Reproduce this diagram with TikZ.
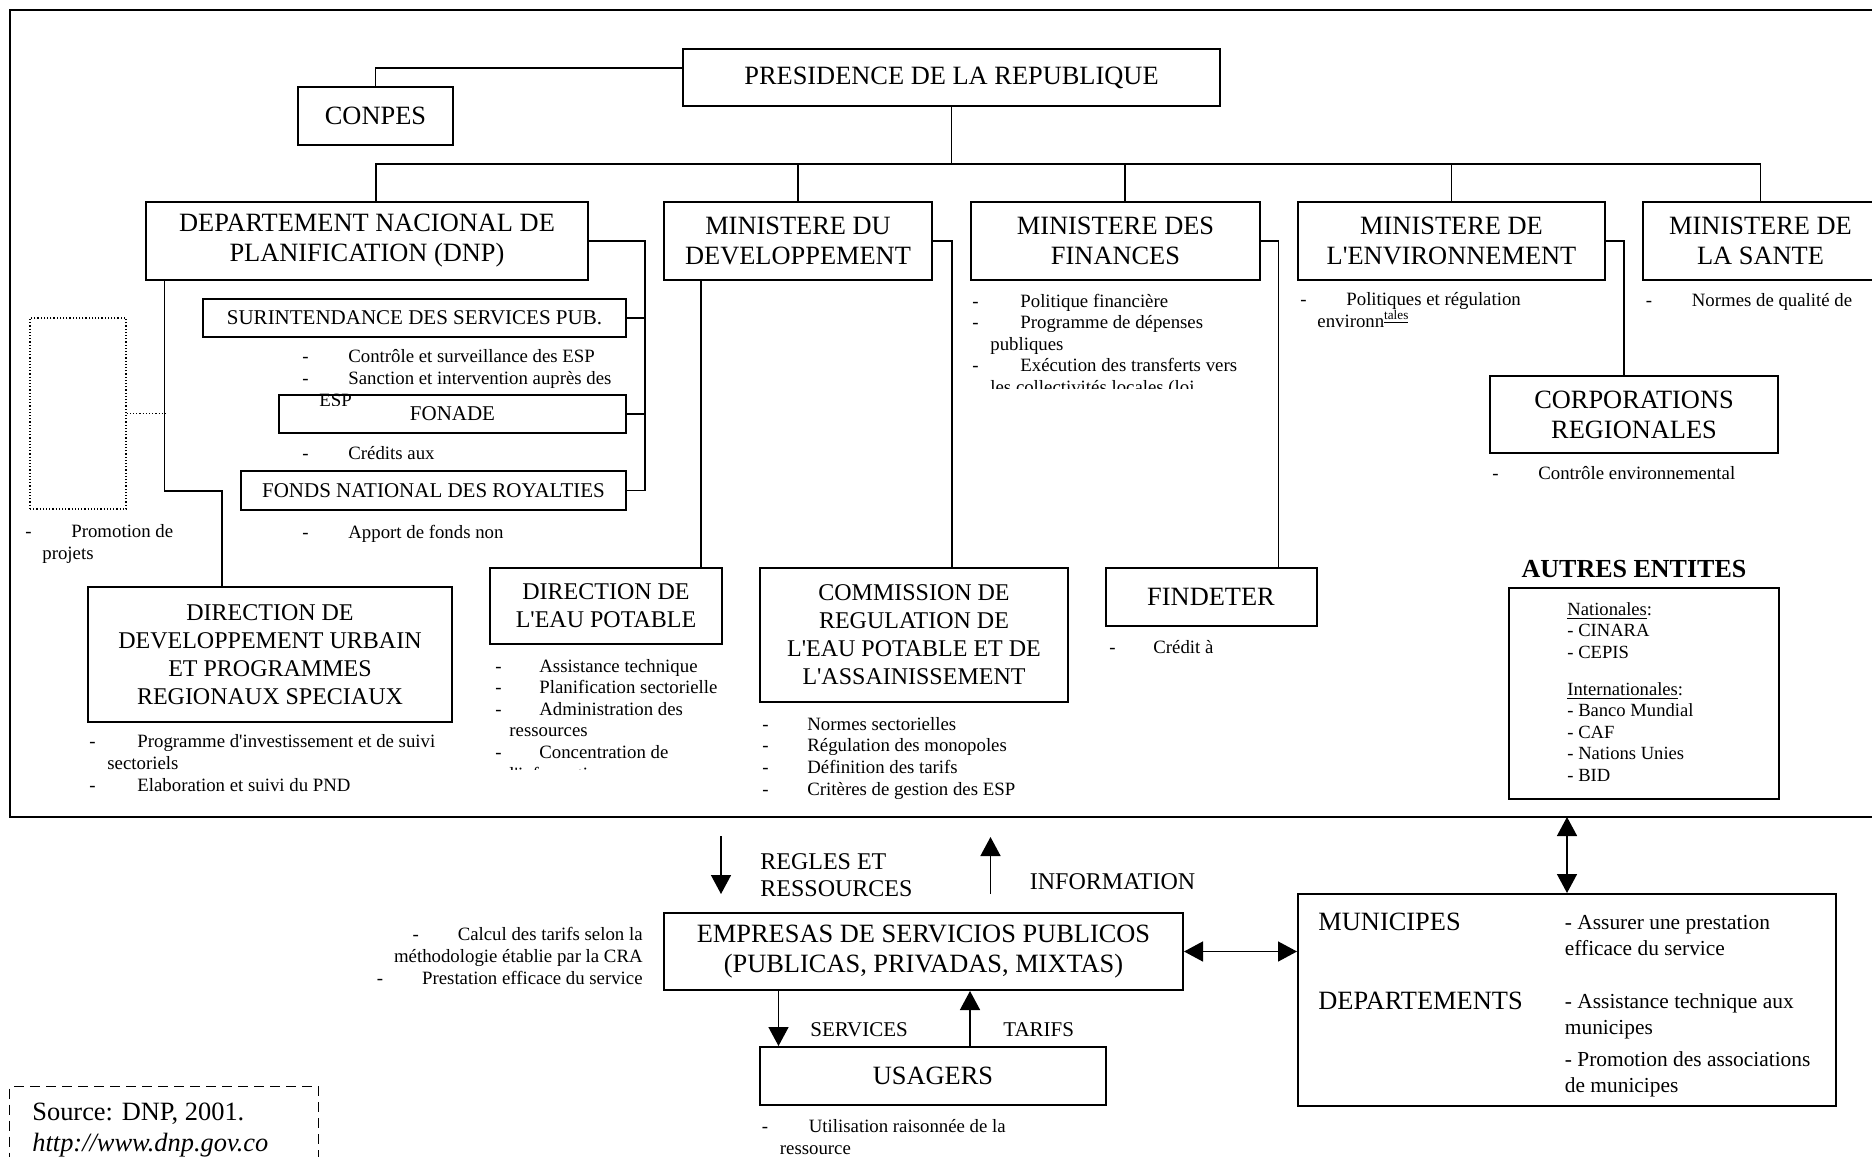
\documentclass[tikz,border=0pt]{standalone}
\usepackage{fontspec}
\setmainfont{Liberation Serif}
\usetikzlibrary{arrows.meta}

\newcommand{\bigfont}{\fontsize{13.2}{15}\selectfont}
\newcommand{\midfont}{\fontsize{12}{14}\selectfont}
\newcommand{\agfont}{\fontsize{10.5}{12}\selectfont}
\newcommand{\taskfont}{\fontsize{9.4}{10.8}\selectfont}
\newcommand{\tsk}[2][23pt]{\makebox[#1][l]{-}#2}
\newcommand{\cnt}[2][8.5pt]{\hspace*{#1}#2}
\newcommand{\apos}{\XeTeXglyph\XeTeXcharglyph"0027\relax}

\tikzset{
  org/.style={draw, line width=1pt, fill=white, align=center, inner sep=0pt, font=\bigfont},
  subunit/.style={org, font=\midfont},
  agency/.style={org, font=\agfont},
  tasks/.style={anchor=base west, align=left, inner sep=0pt, font=\taskfont},
  label/.style={anchor=base west, align=left, inner sep=0pt},
  link/.style={line width=0.75pt},
  flow/.style={line width=0.75pt, -{Triangle[length=9.5pt,width=10pt]}},
  twoway/.style={line width=0.75pt, {Triangle[length=9.5pt,width=10pt]}-{Triangle[length=9.5pt,width=10pt]}},
  sz/.style 2 args={minimum width=#1*0.5pt, minimum height=#2*0.5pt},
}

\begin{document}
\begin{tikzpicture}[x=0.5pt,y=0.5pt,yscale=-1]
\useasboundingbox (0,0) rectangle (1872,1156);
\clip (0,0) rectangle (1872,1156);

% outer frame
\draw[line width=1.1pt] (10,10) rectangle (1900,817);
\coordinate (framebot) at (1566,817);

% top level
\node[org, sz={537}{57}] (pres) at (951.5,77.5) {PRESIDENCE DE LA REPUBLIQUE};
\node[org, sz={155}{58}] (conpes) at (375.5,116) {CONPES};
\draw[link] (conpes.north) |- (pres.west |- 0,68);

% ministries
\node[org, sz={442}{78}] (dnp) at (367,241) {DEPARTEMENT NACIONAL DE\\PLANIFICATION (DNP)};
\node[org, sz={268}{78}] (mdev) at (798,241) {MINISTERE DU\\DEVELOPPEMENT};
\node[org, sz={289}{78}] (mfin) at (1115.5,241) {MINISTERE DES\\FINANCES};
\node[org, sz={307}{78}] (menv) at (1451.5,241) {MINISTERE DE\\L\apos ENVIRONNEMENT};
\node[org, sz={235}{78}] (sante) at (1760.5,241) {MINISTERE DE\\LA SANTE};

\coordinate (bus) at (951.5,164);
\coordinate (dnpTop) at ([xshift=4.5pt]dnp.north);
\coordinate (finTop) at ([xshift=4.75pt]mfin.north);
\draw[link] (pres.south) -- (bus);
\draw[link] (dnpTop) |- (bus) -| (sante.north);
\foreach \m in {mdev.north,finTop,menv.north}
  \draw[link] (\m) -- (\m |- bus);

% DNP
\node[agency, sz={423}{38}] (surint) at (414.5,318) {SURINTENDANCE DES SERVICES PUB.};
\node[agency, sz={347}{38}] (fonade) at (452.5,414) {FONADE};
\node[agency, sz={385}{39}] (fonds) at (433.5,490.5) {FONDS NATIONAL DES ROYALTIES};
\draw[link] (dnp.east) -- ++(56,0) |- (fonds.east);
\draw[link] (surint.east) -- ++(18,0);
\draw[link] (fonade.east) -- ++(18,0);

\begin{scope}
  \clip (200,340) rectangle (700,405);
  \node[tasks] (surintT) at (302,406) {\tsk{Contrôle et surveillance des ESP}\\\tsk{Sanction et intervention auprès des}\\\cnt{ESP}};
\end{scope}
\node[tasks] (fonadeT) at (302,459) {\tsk{Crédits aux}};
\node[tasks] (fondsT) at (302,538) {\tsk{Apport de fonds non}};

\node[draw, line width=0.6pt, dash pattern=on 0.6pt off 1pt, sz={96}{191}] (projbox) at (78,413.5) {};
\draw[line width=0.6pt, dash pattern=on 0.6pt off 1pt] (projbox.east) -- ++(39,0);
\node[tasks] (projT) at (25,559.5) {\tsk{Promotion de}\\\cnt{projets}};

\node[subunit, sz={364}{135}] (ddu) at (270,654.5) {DIRECTION DE\\DEVELOPPEMENT URBAIN\\ET PROGRAMMES\\REGIONAUX SPECIAUX};
\draw[link] ([xshift=9.75pt]dnp.south west) -- ++(0,210) -| ([xshift=-24pt]ddu.north);
\node[tasks] (dduT) at (89,791) {\tsk[24pt]{Programme d\apos investissement et de suivi}\\\cnt[9pt]{sectoriels}\\\tsk[24pt]{Elaboration et suivi du PND}};

% ministere du developpement
\node[subunit, sz={232}{76}] (ep) at (606,606) {DIRECTION DE\\L\apos EAU POTABLE};
\node[subunit, sz={308}{134}] (crag) at (914,635) {COMMISSION DE\\REGULATION DE\\L\apos EAU POTABLE ET DE\\L\apos ASSAINISSEMENT};
\coordinate (devL) at ([xshift=19pt]mdev.south west);
\draw[link] (devL) -- (devL |- ep.north);
\draw[link] (mdev.east) -| ([xshift=19pt]crag.north);

\begin{scope}
  \clip (480,650) rectangle (760,769);
  \node[tasks] (epT) at (495,780) {\tsk[22pt]{Assistance technique}\\\tsk[22pt]{Planification sectorielle}\\\tsk[22pt]{Administration des}\\\cnt[7pt]{ressources}\\\tsk[22pt]{Concentration de}\\\cnt[7pt]{l\apos information}};
\end{scope}
\node[tasks] (cragT) at (762,795) {\tsk[22.5pt]{Normes sectorielles}\\\tsk[22.5pt]{Régulation des monopoles}\\\tsk[22.5pt]{Définition des tarifs}\\\tsk[22.5pt]{Critères de gestion des ESP}};

% ministere des finances
\node[org, sz={211}{58}] (findeter) at (1211,597) {FINDETER};
\draw[link] (mfin.east) -| ([xshift=33.75pt]findeter.north);
\begin{scope}
  \clip (960,280) rectangle (1275,388);
  \node[tasks] (mfinT) at (972,393.5) {\tsk[24pt]{Politique financière}\\\tsk[24pt]{Programme de dépenses}\\\cnt[9pt]{publiques}\\\tsk[24pt]{Exécution des transferts vers}\\\cnt[9pt]{les collectivités locales (loi}};
\end{scope}
\node[tasks] (findT) at (1109,653) {\tsk[22pt]{Crédit à}};

% environnement, sante
\node[org, sz={288}{77}] (corp) at (1634,414.5) {CORPORATIONS\\REGIONALES};
\draw[link] (menv.east) -| ([xshift=-5pt]corp.north);
\node[tasks] (menvT) at (1300,327.5) {\tsk{Politiques et régulation}\\\cnt{environn\textsuperscript{\underline{tales}}}};
\node[tasks] (corpT) at (1492,479) {\tsk{Contrôle environnemental}};
\node[tasks] (santeT) at (1645.5,306) {\tsk{Normes de qualité de}};

% autres entites
\node[inner sep=0pt, font=\fontsize{13}{15}\selectfont\bfseries] (autresT) at (1634,569) {AUTRES ENTITES};
\node[draw, line width=1.4pt, sz={270}{211}] (autres) at (1644,693.5) {};
\node[tasks, font=\fontsize{9.3}{10.75}\selectfont] (autresL) at (1567,781) {\underline{Nationales}:\\- CINARA\\- CEPIS\\[7.75pt]\underline{Internationales}:\\- Banco Mundial\\- CAF\\- Nations Unies\\- BID};

% prestataires et usagers
\coordinate (reglesTop) at (721,836);
\coordinate (reglesEnd) at (721,894);
\draw[flow] (reglesTop) -- (reglesEnd);
\node[label, font=\fontsize{12}{13.5}\selectfont] (reglesL) at (760,896) {REGLES ET\\RESSOURCES};
\coordinate (infoBot) at (990.5,894);
\coordinate (infoTop) at (990.5,837);
\draw[flow] (infoBot) -- (infoTop);
\node[label, font=\fontsize{12}{13.5}\selectfont] (infoL) at (1029.5,889) {INFORMATION};

\node[org, sz={519}{77}] (emp) at (923.5,951.5) {EMPRESAS DE SERVICIOS PUBLICOS\\(PUBLICAS, PRIVADAS, MIXTAS)};
\node[tasks, anchor=base east, align=right] (calcT) at (643,984) {-\hspace{19.5pt}Calcul des tarifs selon la\\méthodologie établie par la CRA\\-\hspace{19.5pt}Prestation efficace du service};

\node[org, sz={538}{212}] (muni) at (1567,1000) {};
\draw[twoway] (muni.north) -- (muni.north |- framebot);
\draw[twoway] (emp.east) -- (muni.west |- emp.east);
\node[label, font=\bigfont] (muniL) at (1318,930) {MUNICIPES};
\node[label, font=\bigfont] (deptL) at (1318,1009) {DEPARTEMENTS};
\node[label, font=\fontsize{10.7}{12.8}\selectfont] (muniT) at (1564.5,955.5) {- Assurer une prestation\\efficace du service};
\node[label, font=\fontsize{10.7}{12.8}\selectfont] (deptT) at (1564.5,1034.5) {- Assistance technique aux\\municipes};
\node[label, font=\fontsize{10.7}{12.8}\selectfont] (assocT) at (1564.5,1092.5) {- Promotion des associations\\de municipes};

\node[org, sz={346}{58}] (usa) at (933,1076) {USAGERS};
\coordinate (servX) at ([xshift=57.75pt]emp.south west);
\coordinate (tarX) at ([xshift=153.5pt]emp.south west);
\draw[flow] (servX) -- (servX |- usa.north);
\draw[flow] (tarX |- usa.north) -- (tarX);
\node[label, font=\fontsize{10.5}{12}\selectfont] (servL) at (810,1036) {SERVICES};
\node[label, font=\fontsize{10.5}{12}\selectfont] (tarL) at (1003,1036) {TARIFS};
\node[tasks] (usaT) at (761.5,1154.5) {\tsk[23.5pt]{Utilisation raisonnée de la}\\\cnt[9pt]{ressource}};

% source
\node[draw, line width=0.7pt, dash pattern=on 5pt off 3pt, anchor=north west, sz={309}{100}] (srcbox) at (9,1086) {};
\node[label, font=\fontsize{13.2}{15.5}\selectfont] (srcT) at (32,1151) {Source: DNP, 2001.\\\textit{http://www.dnp.gov.co}};
\end{tikzpicture}
\end{document}
